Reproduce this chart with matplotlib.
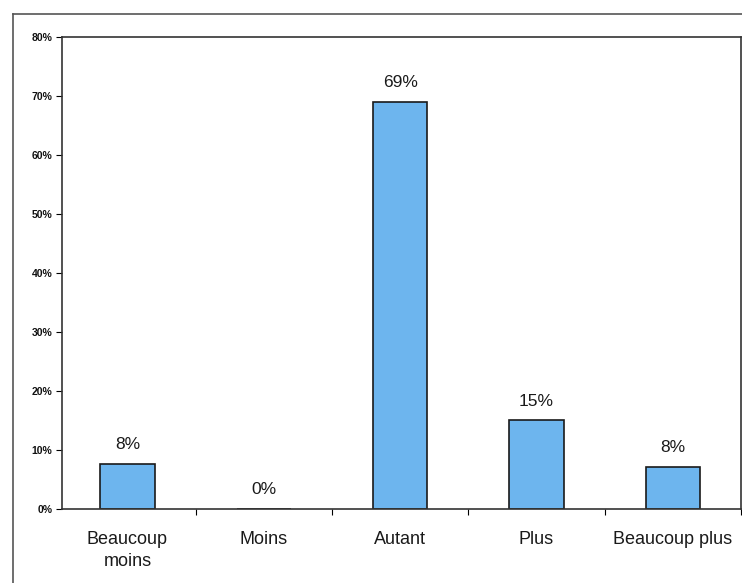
import matplotlib
matplotlib.use('Agg')
import matplotlib.pyplot as plt
from matplotlib.lines import Line2D

categories = ['Beaucoup\nmoins', 'Moins', 'Autant', 'Plus', 'Beaucoup plus']
values = [7.7, 0, 69, 15, 7.1]
value_labels = ['8%', '0%', '69%', '15%', '8%']
yticks = [0, 10, 20, 30, 40, 50, 60, 70, 80]

plt.rcParams['font.family'] = ['Liberation Sans', 'DejaVu Sans']

fig = plt.figure(figsize=(7.42, 5.83), dpi=100)
ax = fig.add_axes([0.0836, 0.127, 0.915, 0.8095])

x = range(len(categories))
ax.bar(x, values, width=0.4, color='#6db5ee', edgecolor='#1a1a1a', linewidth=1.2)

for xi, v, lab in zip(x, values, value_labels):
    ax.text(xi, v + 2.0, lab, ha='center', va='bottom', fontsize=12.5, color='#1a1a1a')

ax.set_xlim(-0.48, len(categories) - 0.5)
ax.set_ylim(0, 80)
ax.set_yticks(yticks)
ax.set_yticklabels(['%d%%' % t for t in yticks], fontsize=7.5, color='#111111',
                   fontweight='bold')
ax.tick_params(axis='y', length=4, width=0.8, pad=3)

# category labels, tick marks between categories
ax.set_xticks(list(x))
ax.set_xticklabels(categories, fontsize=13, color='#1a1a1a', linespacing=1.4,
                   va='top')
ax.tick_params(axis='x', length=0, pad=16)
ax.set_xticks([i + 0.5 for i in range(len(categories))], minor=True)
ax.tick_params(axis='x', which='minor', length=4, width=0.8, direction='out')

for s in ax.spines.values():
    s.set_color('#333333')
    s.set_linewidth(1.2)

# outer frame of the scanned chart
fig.add_artist(Line2D([13 / 742, 1.0], [1 - 14 / 583, 1 - 14 / 583], color='#555555', lw=1.2))
fig.add_artist(Line2D([13 / 742, 13 / 742], [0, 1 - 14 / 583], color='#555555', lw=1.2))

fig.savefig('out.png', dpi=100)
